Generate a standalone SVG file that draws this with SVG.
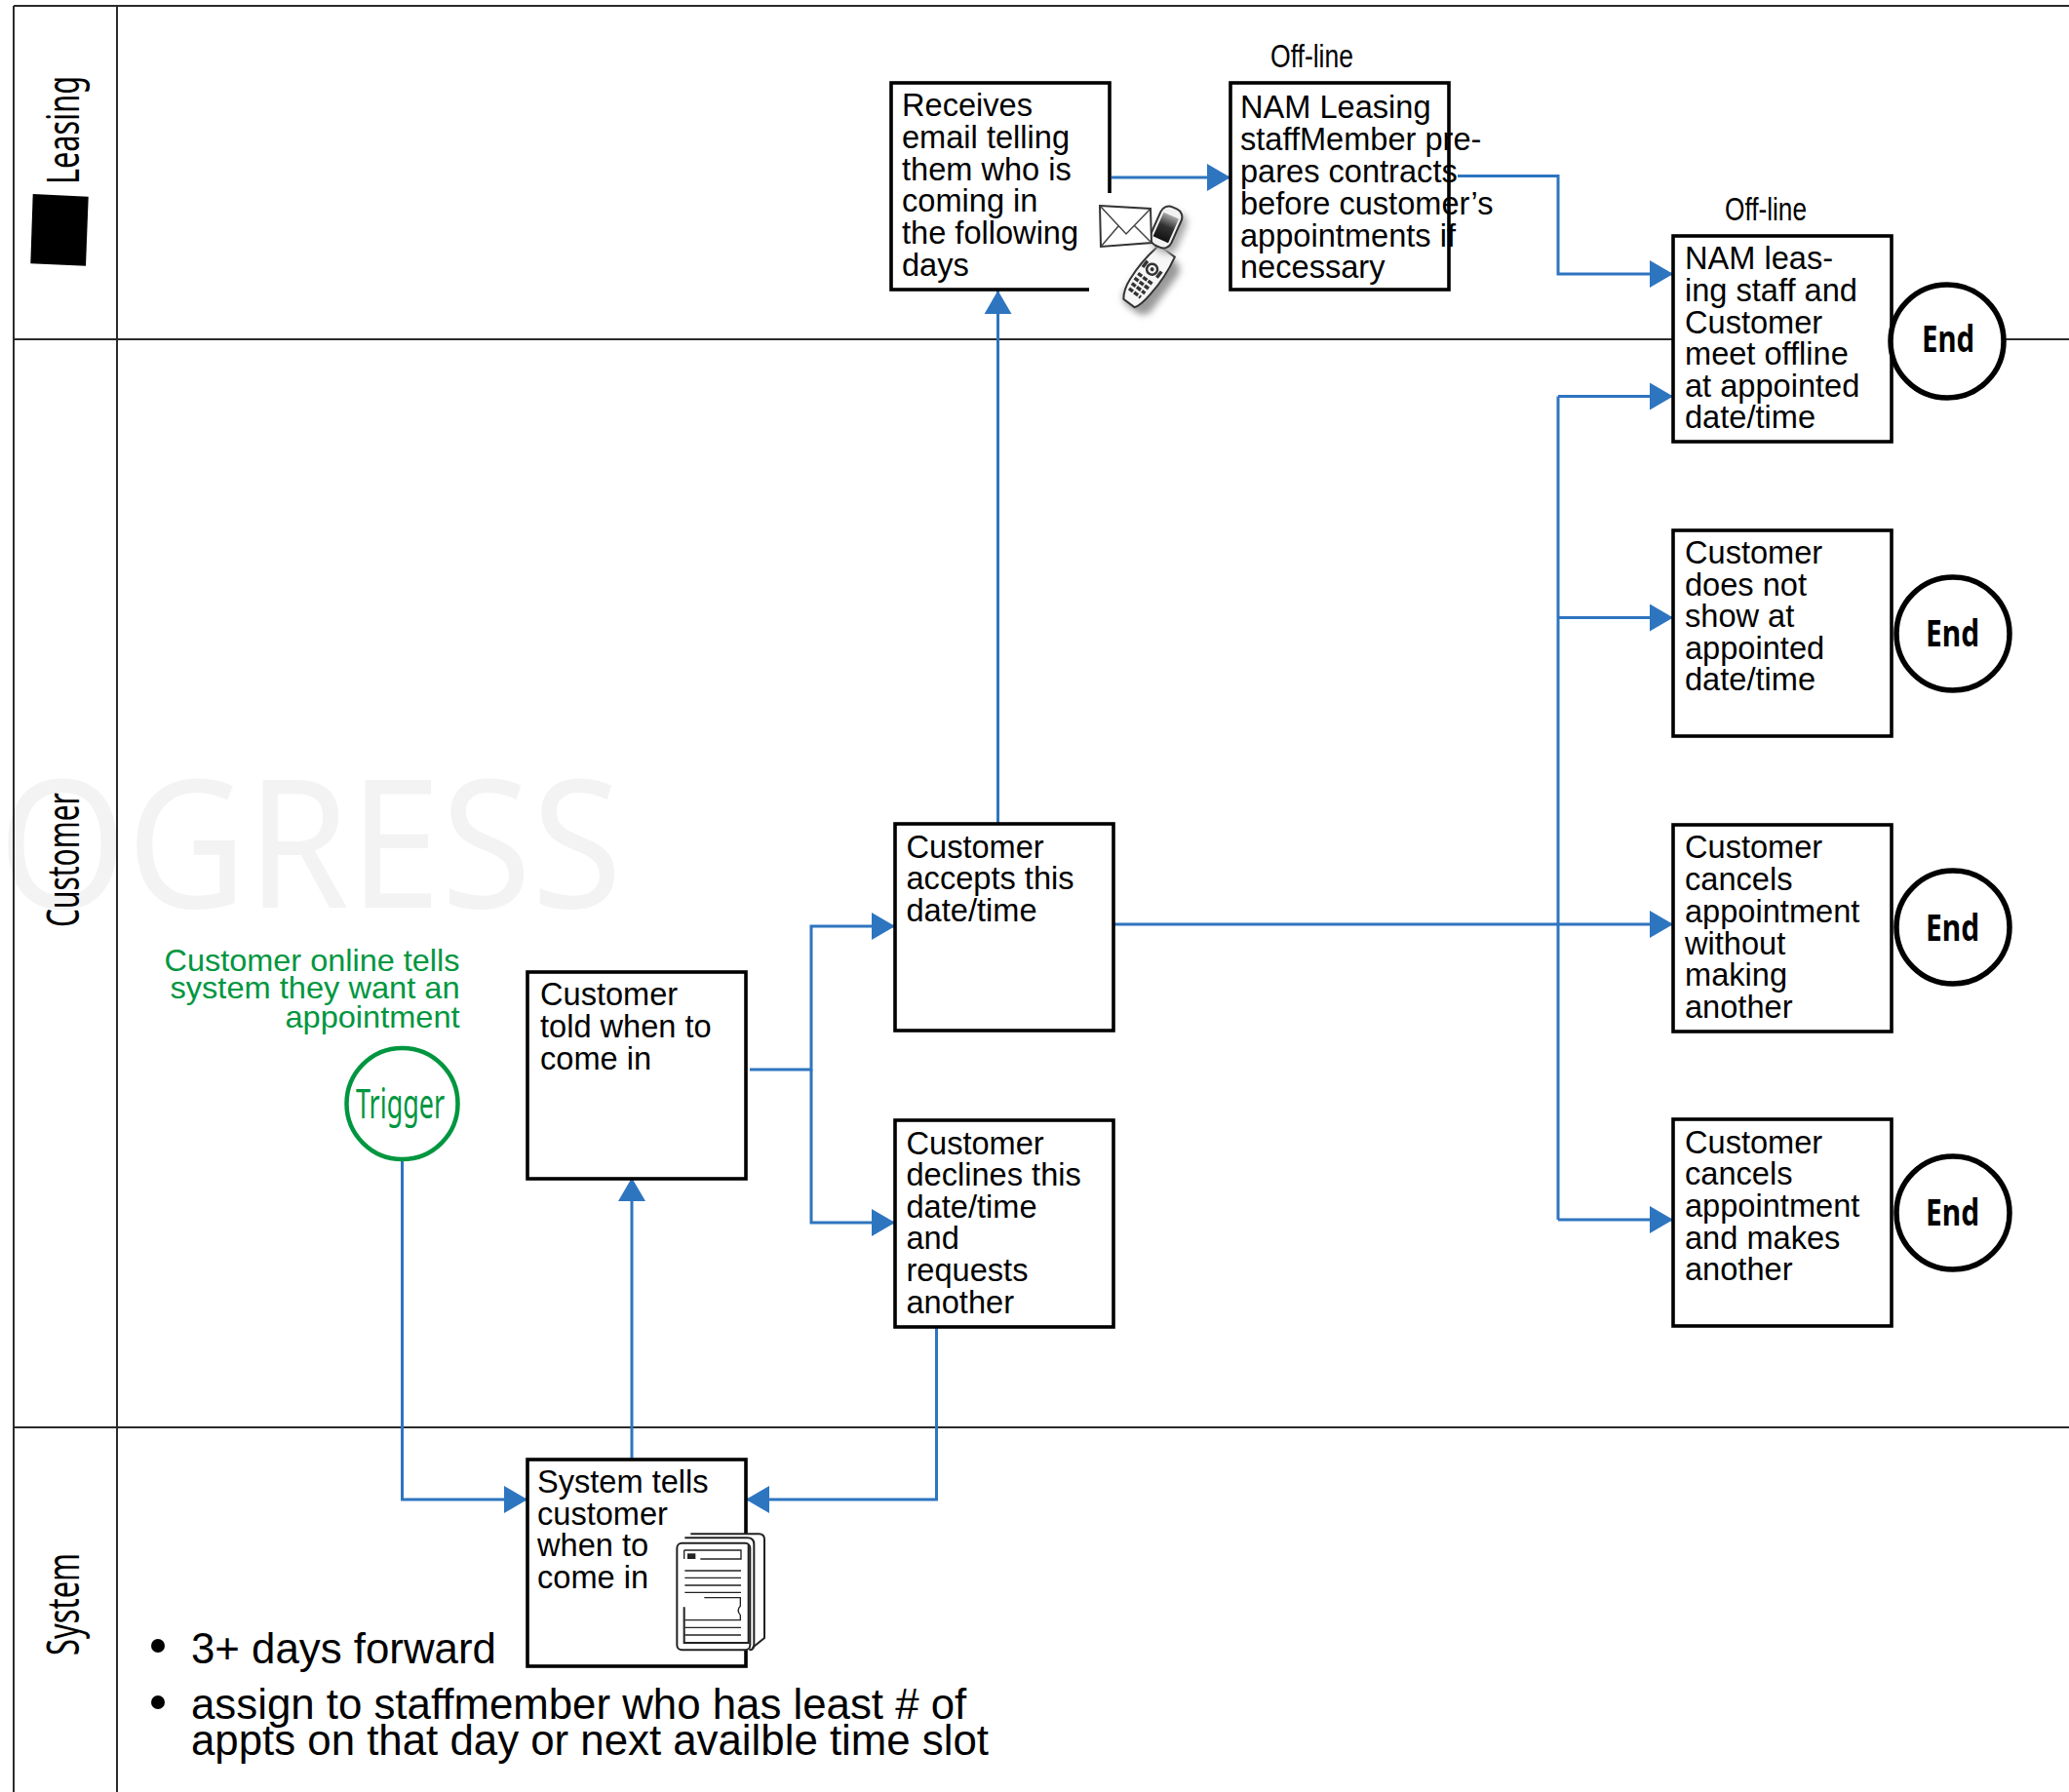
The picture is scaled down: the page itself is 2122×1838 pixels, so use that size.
<svg xmlns="http://www.w3.org/2000/svg" width="2122" height="1838" viewBox="0 0 2122 1838">
<style>
.lane{stroke:#2b2b2b;stroke-width:2;fill:none}
.box{fill:#fff;stroke:#000;stroke-width:3.6}
.t{font-family:"Liberation Sans",Arial,sans-serif;font-size:32.6px;fill:#000}
.off{font-family:"Liberation Sans",Arial,sans-serif;font-size:33px;fill:#000}
.g{font-family:"Liberation Sans",Arial,sans-serif;font-size:32px;fill:#009640;text-anchor:end}
.b{font-family:"Liberation Sans",Arial,sans-serif;font-size:43.800px;fill:#000}
.ln{font-family:"Noto Sans",sans-serif;font-size:45px;fill:#000}
.wm{font-family:"Noto Sans",sans-serif;font-size:182px;fill:#f3f3f3}
.end{fill:#fff;stroke:#000;stroke-width:5.5}
.endt{font-family:"Noto Sans",sans-serif;font-size:38px;font-weight:700;fill:#000}
.c{fill:none;stroke:#2e75c0;stroke-width:3}
.ic{fill:none;stroke:#222;stroke-width:4}
.ic2{fill:none;stroke:#222;stroke-width:6}
</style>
<defs>
<marker id="a" markerUnits="userSpaceOnUse" markerWidth="24" markerHeight="28" viewBox="0 0 24 28" refX="24" refY="14" orient="auto"><polygon points="0,0 24,14 0,28" fill="#2e75c0"/></marker>
<filter id="bl" x="-40%" y="-40%" width="180%" height="180%"><feGaussianBlur stdDeviation="3.5"/></filter>
<linearGradient id="scr" x1="0" y1="0" x2="0" y2="1"><stop offset="0" stop-color="#aaa"/><stop offset=".45" stop-color="#333"/><stop offset="1" stop-color="#111"/></linearGradient>
</defs>

<g id="watermark"><text class="wm" x="-2" y="931" textLength="640" lengthAdjust="spacingAndGlyphs">OGRESS</text></g>

<g id="lanes">
<path class="lane" d="M14 6H2122M14 348H2122M14 1464H2122M14 6V1838M120 6V1838"/>
<polygon points="33.7,199 90.7,201.7 88,272.7 31.3,270.3" fill="#000"/>
<text class="ln" transform="translate(81 189) rotate(-90)" textLength="111" lengthAdjust="spacingAndGlyphs">Leasing</text>
<text class="ln" transform="translate(81 951) rotate(-90)" textLength="138" lengthAdjust="spacingAndGlyphs">Customer</text>
<text class="ln" transform="translate(81 1698) rotate(-90)" textLength="105" lengthAdjust="spacingAndGlyphs">System</text>
</g>

<g id="connectors">
<path class="c" d="M1140 182H1262" marker-end="url(#a)"/>
<path class="c" d="M1495 180.500H1598V281H1716" marker-end="url(#a)"/>
<path class="c" d="M1598 406.500H1716" marker-end="url(#a)"/>
<path class="c" d="M1598 633.500H1716" marker-end="url(#a)"/>
<path class="c" d="M1598 1251H1716" marker-end="url(#a)"/>
<path class="c" d="M1598 406.500V1251"/>
<path class="c" d="M1143 948H1716" marker-end="url(#a)"/>
<path class="c" d="M1023.500 844V298" marker-end="url(#a)"/>
<path class="c" d="M769 1097H832V950H918" marker-end="url(#a)"/>
<path class="c" d="M832 1097V1254H918" marker-end="url(#a)"/>
<path class="c" d="M412.500 1190V1538H541" marker-end="url(#a)"/>
<path class="c" d="M648 1496V1208" marker-end="url(#a)"/>
<path class="c" d="M960.500 1361V1538H765" marker-end="url(#a)"/>
</g>

<g id="trigger">
<text class="g" x="471.500" y="996" textLength="303" lengthAdjust="spacingAndGlyphs">Customer online tells</text>
<text class="g" x="471.500" y="1024" textLength="297" lengthAdjust="spacingAndGlyphs">system they want an</text>
<text class="g" x="471.500" y="1053.500" textLength="179" lengthAdjust="spacingAndGlyphs">appointment</text>
<circle cx="412.500" cy="1132" r="57" fill="#fff" stroke="#009640" stroke-width="4.500"/>
<text x="365" y="1147" textLength="91" lengthAdjust="spacingAndGlyphs" style="font-family:'Noto Sans',sans-serif;font-size:41px;fill:#009640">Trigger</text>
</g>

<g id="n-receives">
<rect class="box" x="914" y="85" width="224" height="212"/>
<text class="t"><tspan x="925" y="118.500">Receives</tspan><tspan x="925" y="152">email telling</tspan><tspan x="925" y="184.500">them who is</tspan><tspan x="925" y="217">coming in</tspan><tspan x="925" y="250">the following</tspan><tspan x="925" y="282.500">days</tspan></text>
<g id="phone-icon">
<rect x="1117" y="198" width="104" height="134" fill="#fff"/>
<path d="M1186 250L1196 262" stroke="#555" stroke-width="6"/>
<g transform="translate(1177 284) rotate(37)">
<rect x="-10" y="-30" width="34" height="66" rx="11" fill="#999" filter="url(#bl)"/>
<path d="M-10 -33H10Q15 -10 13 12Q12 28 8 33H-6Q-12 25 -13 12Q-15 -10 -10 -33Z" fill="#f6f6f6" stroke="#333" stroke-width="2"/>
<circle cx="-1" cy="-9" r="5.500" fill="none" stroke="#333" stroke-width="2.500"/><circle cx="-1" cy="-9" r="2" fill="#333"/>
<path d="M-10 -13V-5M8 -13V-5" stroke="#333" stroke-width="3.500"/>
<path d="M-10 3H9M-10 9H9M-9 15H8M-8 21H7" stroke="#333" stroke-width="3.500" stroke-dasharray="5 1.500"/>
</g>
<g transform="translate(1196 233) rotate(24)">
<rect x="-9" y="-19" width="28" height="44" rx="10" fill="#aaa" filter="url(#bl)"/>
<rect x="-11.500" y="-21.500" width="23" height="43" rx="9" fill="#f2f2f2" stroke="#333" stroke-width="2"/>
<rect x="-8.500" y="-13" width="17" height="27" fill="url(#scr)"/>
</g>
<polygon points="1128,211 1180,214 1181,249 1129,253" fill="#fff" stroke="#333" stroke-width="2"/>
<path d="M1128 211L1155 240L1180 214M1129 253L1147 232M1181 249L1163 231" fill="none" stroke="#444" stroke-width="1.500"/>
</g>
</g>

<g id="n-prepare">
<rect class="box" x="1262" y="85" width="224" height="212"/>
<text class="t"><tspan x="1272" y="121">NAM Leasing</tspan><tspan x="1272" y="154">staffMember pre-</tspan><tspan x="1272" y="187">pares contracts</tspan><tspan x="1272" y="220">before customer’s</tspan><tspan x="1272" y="253">appointments if</tspan><tspan x="1272" y="285">necessary</tspan></text>
<text class="off" x="1303" y="69" textLength="85" lengthAdjust="spacingAndGlyphs">Off-line</text>
</g>

<g id="n-meet">
<rect class="box" x="1716" y="242" width="224" height="211"/>
<text class="t"><tspan x="1728" y="276">NAM leas-</tspan><tspan x="1728" y="308.500">ing staff and</tspan><tspan x="1728" y="342">Customer</tspan><tspan x="1728" y="374">meet offline</tspan><tspan x="1728" y="407">at appointed</tspan><tspan x="1728" y="439">date/time</tspan></text>
<text class="off" x="1769" y="226" textLength="84" lengthAdjust="spacingAndGlyphs">Off-line</text>
</g>
<g id="end-1"><circle class="end" cx="1997" cy="350" r="58"/><text class="endt" x="1971" y="361" textLength="54" lengthAdjust="spacingAndGlyphs">End</text></g>

<g id="n-noshow">
<rect class="box" x="1716" y="544" width="224" height="211"/>
<text class="t"><tspan x="1728" y="578">Customer</tspan><tspan x="1728" y="611">does not</tspan><tspan x="1728" y="643">show at</tspan><tspan x="1728" y="676">appointed</tspan><tspan x="1728" y="708">date/time</tspan></text>
</g>
<g id="end-2"><circle class="end" cx="2003" cy="650" r="58"/><text class="endt" x="1975" y="663" textLength="55" lengthAdjust="spacingAndGlyphs">End</text></g>

<g id="n-cancel">
<rect class="box" x="1716" y="846" width="224" height="212"/>
<text class="t"><tspan x="1728" y="880">Customer</tspan><tspan x="1728" y="913">cancels</tspan><tspan x="1728" y="946">appointment</tspan><tspan x="1728" y="979">without</tspan><tspan x="1728" y="1011">making</tspan><tspan x="1728" y="1044">another</tspan></text>
</g>
<g id="end-3"><circle class="end" cx="2003" cy="951" r="58"/><text class="endt" x="1975" y="965" textLength="55" lengthAdjust="spacingAndGlyphs">End</text></g>

<g id="n-rebook">
<rect class="box" x="1716" y="1148" width="224" height="212"/>
<text class="t"><tspan x="1728" y="1183">Customer</tspan><tspan x="1728" y="1215">cancels</tspan><tspan x="1728" y="1248">appointment</tspan><tspan x="1728" y="1281">and makes</tspan><tspan x="1728" y="1313">another</tspan></text>
</g>
<g id="end-4"><circle class="end" cx="2003" cy="1244" r="58"/><text class="endt" x="1975" y="1257" textLength="55" lengthAdjust="spacingAndGlyphs">End</text></g>

<g id="n-accepts">
<rect class="box" x="918" y="845" width="224" height="212"/>
<text class="t"><tspan x="929.500" y="880">Customer</tspan><tspan x="929.500" y="912">accepts this</tspan><tspan x="929.500" y="945">date/time</tspan></text>
</g>
<g id="n-declines">
<rect class="box" x="918" y="1149" width="224" height="212"/>
<text class="t"><tspan x="929.500" y="1184">Customer</tspan><tspan x="929.500" y="1216">declines this</tspan><tspan x="929.500" y="1249">date/time</tspan><tspan x="929.500" y="1281">and</tspan><tspan x="929.500" y="1314">requests</tspan><tspan x="929.500" y="1347">another</tspan></text>
</g>
<g id="n-told">
<rect class="box" x="541" y="997" width="224" height="212"/>
<text class="t"><tspan x="554" y="1031">Customer</tspan><tspan x="554" y="1064">told when to</tspan><tspan x="554" y="1097">come in</tspan></text>
</g>
<g id="n-system">
<rect class="box" x="541" y="1497" width="224" height="212"/>
<text class="t"><tspan x="551" y="1531">System tells</tspan><tspan x="551" y="1564">customer</tspan><tspan x="551" y="1596">when to</tspan><tspan x="551" y="1629">come in</tspan></text>
<g id="doc-icon" transform="translate(500 1460) scale(.33333)">
<path d="M583 368H605V352H625V340H835Q852 340 852 357V660L815 690L805 697H598Q583 697 583 682Z" fill="#fff"/>
<path class="ic2" d="M625 340H835Q852 340 852 357V660L815 690"/>
<path class="ic2" d="M607 352H800Q820 352 820 372V680Q820 697 805 697"/>
<rect class="ic2" x="583" y="368" width="225" height="329" rx="15"/>
<path class="ic2" d="M605 565V675H803V372"/>
<path class="ic" d="M605 390H780V417H655M605 390V417"/>
<rect x="615" y="400" width="25" height="17" fill="#222"/>
<path class="ic" d="M607 453H780M607 475H780M607 498H780M607 520H780M667 536H778V562Q765 575 778 590V605H607M607 628H780M607 651H780"/>
</g>
</g>

<g id="notes">
<circle cx="162" cy="1688" r="7" fill="#000"/>
<circle cx="162" cy="1746" r="7" fill="#000"/>
<text class="b" x="196" y="1706">3+ days forward</text>
<text class="b" x="196" y="1763">assign to staffmember who has least # of</text>
<text class="b" x="196" y="1800">appts on that day or next availble time slot</text>
</g>
</svg>
